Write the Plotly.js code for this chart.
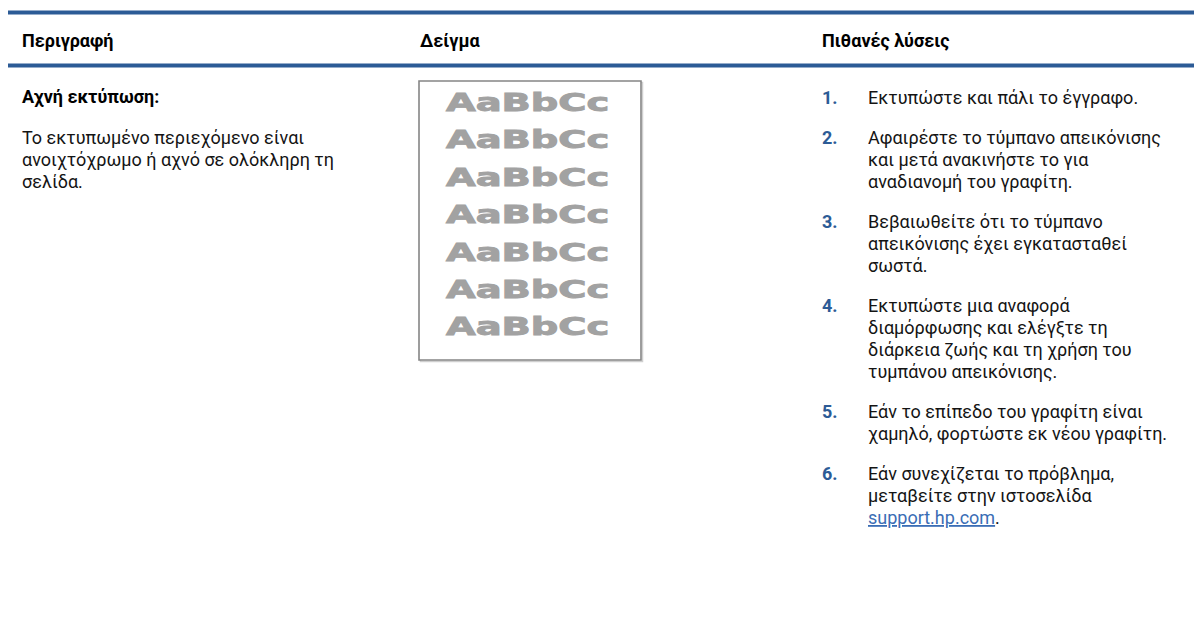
<!DOCTYPE html>
<html>
<head>
<meta charset="utf-8">
<script src="https://cdn.plot.ly/plotly-3.0.1.min.js"></script>
<style>
  html, body { margin: 0; padding: 0; background: #fff; }
  #chart { width: 1194px; height: 633px; }
  text.annotation-text[style*="DejaVu Sans"] {
    transform-box: fill-box;
    transform-origin: 0% 50%;
    transform: scaleX(1.6);
    stroke: #a2a2a2;
    stroke-width: 0.9px;
    paint-order: stroke;
  }
</style>
</head>
<body>
<div id="chart"></div>
<script>
// ---- data ----
const headers = ["Περιγραφή", "Δείγμα", "Πιθανές λύσεις"];
const issueTitle = "Αχνή εκτύπωση:";
const issueLines = [
  "Το εκτυπωμένο περιεχόμενο είναι",
  "ανοιχτόχρωμο ή αχνό σε ολόκληρη τη",
  "σελίδα."
];
const sampleText = "AaBbCc";
const sampleRowCount = 7;
const solutionNumbers = ["1.", "2.", "3.", "4.", "5.", "6."];
const solutionLines = [
  ["Εκτυπώστε και πάλι το έγγραφο."],
  ["Αφαιρέστε το τύμπανο απεικόνισης", "και μετά ανακινήστε το για", "αναδιανομή του γραφίτη."],
  ["Βεβαιωθείτε ότι το τύμπανο", "απεικόνισης έχει εγκατασταθεί", "σωστά."],
  ["Εκτυπώστε μια αναφορά", "διαμόρφωσης και ελέγξτε τη", "διάρκεια ζωής και τη χρήση του", "τυμπάνου απεικόνισης."],
  ["Εάν το επίπεδο του γραφίτη είναι", "χαμηλό, φορτώστε εκ νέου γραφίτη."],
  ["Εάν συνεχίζεται το πρόβλημα,", "μεταβείτε στην ιστοσελίδα", "__LINK__."]
];
const linkText = "support.hp.com";
const linkUrl = "https://support.hp.com";

// ---- layout constants ----
const W = 1194, H = 633;
const BLUE = "#2c5b96";
const FONT = "Roboto";
const FS = 18;
const HFS = 18;
const colX = [20, 418, 820];
const stepTextX = 866;
const headerY = 40;
const firstY = 97;
const lineH = 22;
const itemGap = 40;

const ann = [];
function addText(x, y, text, opts) {
  opts = opts || {};
  ann.push({
    x: x, y: y, xref: "x", yref: "y",
    xanchor: opts.xanchor || "left", yanchor: "middle",
    text: text, showarrow: false,
    font: {family: opts.family || FONT, size: opts.size || FS, color: opts.color || "#141414",
           weight: opts.bold ? "bold" : "normal"}
  });
}

// headers
headers.forEach((h, i) => addText(colX[i], headerY, h, {bold: true, color: "#000", size: HFS}));

// description column
addText(colX[0], firstY, issueTitle, {bold: true, color: "#000", size: HFS});
issueLines.forEach((l, k) => addText(colX[0], firstY + itemGap + k * lineH, l));

// solutions column
let y = firstY;
solutionLines.forEach((lines, i) => {
  addText(colX[2], y, solutionNumbers[i], {bold: true, color: BLUE, size: HFS});
  lines.forEach((l, k) => {
    const t = l.replace("__LINK__",
      '<a href="' + linkUrl + '" style="fill:#3a6db5;color:#3a6db5;text-decoration:underline">' + linkText + '</a>');
    addText(stepTextX, y + k * lineH, t);
  });
  y += (lines.length - 1) * lineH + itemGap;
});

// sample image
const box = {x0: 419, x1: 641, y0: 81, y1: 360};
const sampleTop = 103, sampleStep = 37.4;
for (let r = 0; r < sampleRowCount; r++) {
  addText(444, sampleTop + r * sampleStep, sampleText,
    {family: "DejaVu Sans", size: 24, bold: true, color: "#a2a2a2"});
}

const shapes = [
  {type: "line", xref: "x", yref: "y", x0: 8, x1: W, y0: 12.5, y1: 12.5, line: {color: BLUE, width: 4}},
  {type: "line", xref: "x", yref: "y", x0: 8, x1: W, y0: 65.5, y1: 65.5, line: {color: BLUE, width: 4}},
  {type: "rect", xref: "x", yref: "y", x0: box.x0 + 1.5, x1: box.x1 + 1.5, y0: box.y0 + 1.5, y1: box.y1 + 1.5,
   line: {color: "#cfcfcf", width: 1.5}, fillcolor: "rgba(0,0,0,0)", layer: "below"},
  {type: "rect", xref: "x", yref: "y", x0: box.x0, x1: box.x1, y0: box.y0, y1: box.y1,
   line: {color: "#858585", width: 1.6}, fillcolor: "#ffffff", layer: "below"}
];

const layout = {
  width: W, height: H,
  margin: {l: 0, r: 0, t: 0, b: 0, pad: 0},
  paper_bgcolor: "#ffffff", plot_bgcolor: "#ffffff",
  xaxis: {range: [0, W], visible: false, fixedrange: true},
  yaxis: {range: [H, 0], visible: false, fixedrange: true},
  showlegend: false,
  annotations: ann,
  shapes: shapes
};

Plotly.newPlot("chart", [{x: [], y: [], type: "scatter", mode: "markers", hoverinfo: "skip"}], layout,
  {staticPlot: true, displayModeBar: false});
</script>
</body>
</html>
